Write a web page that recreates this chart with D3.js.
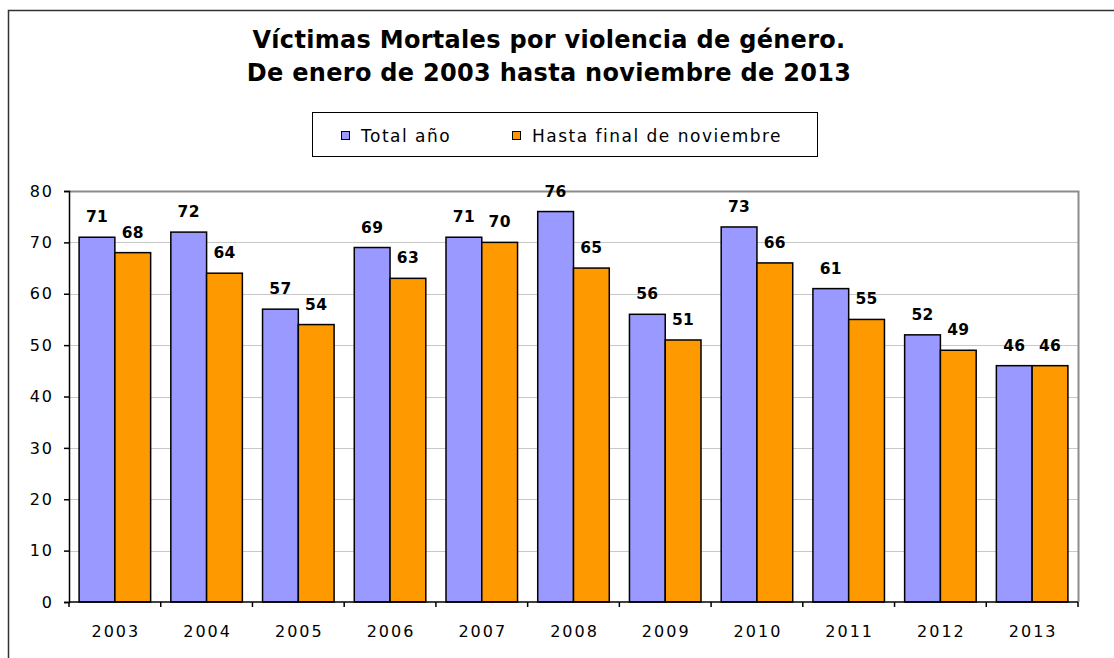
<!DOCTYPE html>
<html>
<head>
<meta charset="utf-8">
<script src="https://cdn.jsdelivr.net/npm/d3@7"></script>
<style>
  html, body { margin: 0; padding: 0; background: #fff; }
  svg { display: block; }
</style>
</head>
<body>
<div id="chart"></div>
<script>
const years = ["2003","2004","2005","2006","2007","2008","2009","2010","2011","2012","2013"];
const totalYear = [71, 72, 57, 69, 71, 76, 56, 73, 61, 52, 46];
const untilNovember = [68, 64, 54, 63, 70, 65, 51, 66, 55, 49, 46];
const seriesNames = ["Total año", "Hasta final de noviembre"];
const seriesColors = ["#9999ff", "#ff9900"];
const yTicks = [0, 10, 20, 30, 40, 50, 60, 70, 80];
const titleLines = ["Víctimas Mortales por violencia de género.", "De enero de 2003 hasta noviembre de 2013"];

const width = 1114, height = 658;
const margin = { top: 191, right: 36, bottom: 56, left: 69 };

const svg = d3.select("#chart").append("svg")
  .attr("width", width)
  .attr("height", height);

// Outer frame (runs off the right and bottom edge).
svg.append("rect")
  .attr("x", 8.5).attr("y", 10.5)
  .attr("width", width + 20).attr("height", height + 20)
  .attr("fill", "#fff")
  .attr("stroke", "#333")
  .attr("stroke-width", 1.5);

// Title.
svg.append("g").selectAll("text")
  .data(titleLines)
  .join("text")
  .attr("x", 549)
  .attr("y", (d, i) => 48 + i * 33)
  .attr("text-anchor", "middle")
  .style("font-family", "'DejaVu Sans', Verdana, sans-serif")
  .style("font-weight", "bold")
  .style("font-size", "24px")
  .style("letter-spacing", "0.3px")
  .text(d => d);

// Legend.
const legend = svg.append("g").attr("class", "legend");
legend.append("rect")
  .attr("x", 312.5).attr("y", 112.5)
  .attr("width", 505).attr("height", 44)
  .attr("fill", "#fff")
  .attr("stroke", "#000")
  .attr("stroke-width", 1);
const legendX = [341, 512];
const legendItems = legend.selectAll("g.item")
  .data(seriesNames)
  .join("g")
  .attr("class", "item")
  .attr("transform", (d, i) => `translate(${legendX[i]},131)`);
legendItems.append("rect")
  .attr("x", 0.5).attr("y", 0.5)
  .attr("width", 8).attr("height", 8)
  .attr("fill", (d, i) => seriesColors[i])
  .attr("stroke", "#000")
  .attr("stroke-width", 1);
legendItems.append("text")
  .attr("x", 20)
  .attr("y", 11)
  .style("font-family", "'DejaVu Sans', Verdana, sans-serif")
  .style("font-size", "17px")
  .style("letter-spacing", "1.5px")
  .text(d => d);

// Scales.
const x0 = d3.scaleBand()
  .domain(years)
  .range([margin.left, width - margin.right])
  .paddingInner(0.22)
  .paddingOuter(0.11);
const x1 = d3.scaleBand()
  .domain([0, 1])
  .range([0, x0.bandwidth()]);
const y = d3.scaleLinear()
  .domain([0, 80])
  .range([height - margin.bottom, margin.top]);

const plotLeft = margin.left, plotRight = width - margin.right;
const plotTop = margin.top, plotBottom = height - margin.bottom;

// Gridlines.
svg.append("g").attr("class", "grid")
  .selectAll("line")
  .data(yTicks.filter(d => d > 0))
  .join("line")
  .attr("x1", plotLeft).attr("x2", plotRight)
  .attr("y1", d => Math.round(y(d)) + 0.5)
  .attr("y2", d => Math.round(y(d)) + 0.5)
  .attr("stroke", "#c8c8c8")
  .attr("stroke-width", 1);

// Plot area border (top and right).
svg.append("path")
  .attr("d", `M${plotLeft},${plotTop + 0.5}H${plotRight + 0.5}V${plotBottom}`)
  .attr("fill", "none")
  .attr("stroke", "#8c8c8c")
  .attr("stroke-width", 2);

// Bars.
const data = years.map((yr, i) => ({ year: yr, values: [totalYear[i], untilNovember[i]] }));
const groups = svg.append("g").attr("class", "bars")
  .selectAll("g")
  .data(data)
  .join("g")
  .attr("transform", d => `translate(${x0(d.year)},0)`);
groups.selectAll("rect")
  .data(d => d.values.map((v, k) => ({ k, v })))
  .join("rect")
  .attr("x", d => x1(d.k))
  .attr("y", d => y(d.v))
  .attr("width", x1.bandwidth())
  .attr("height", d => y(0) - y(d.v))
  .attr("fill", d => seriesColors[d.k])
  .attr("stroke", "#000")
  .attr("stroke-width", 1.5);
groups.selectAll("text")
  .data(d => d.values.map((v, k) => ({ k, v })))
  .join("text")
  .attr("x", d => x1(d.k) + x1.bandwidth() / 2)
  .attr("y", d => y(d.v) - 15)
  .attr("text-anchor", "middle")
  .style("font-family", "'DejaVu Sans', Verdana, sans-serif")
  .style("font-weight", "bold")
  .style("font-size", "15.5px")
  .style("letter-spacing", "0.3px")
  .text(d => d.v);

// Y axis.
const yAxis = svg.append("g")
  .attr("transform", `translate(${plotLeft},0)`)
  .call(d3.axisLeft(y).tickValues(yTicks).tickSize(5).tickPadding(10));
yAxis.select(".domain").attr("stroke", "#000").attr("stroke-width", 1.5);
yAxis.selectAll(".tick line").attr("stroke", "#000").attr("stroke-width", 1.5);
yAxis.selectAll(".tick text")
  .style("font-family", "'DejaVu Sans', Verdana, sans-serif")
  .style("font-size", "16px")
  .style("letter-spacing", "2px")
  .attr("fill", "#000");

// X axis: ticks on category boundaries.
const xAxis = svg.append("g")
  .attr("transform", `translate(0,${plotBottom})`);
xAxis.append("line")
  .attr("x1", plotLeft).attr("x2", plotRight)
  .attr("stroke", "#000").attr("stroke-width", 1.5);
const step = x0.step();
const bounds = d3.range(years.length + 1).map(i => plotLeft + i * step);
xAxis.selectAll("line.tick")
  .data(bounds)
  .join("line")
  .attr("class", "tick")
  .attr("x1", d => d).attr("x2", d => d)
  .attr("y1", 0).attr("y2", 5)
  .attr("stroke", "#000").attr("stroke-width", 1.5);
xAxis.selectAll("text")
  .data(years)
  .join("text")
  .attr("x", d => x0(d) + x0.bandwidth() / 2 + 1)
  .attr("y", 35)
  .attr("text-anchor", "middle")
  .style("font-family", "'DejaVu Sans', Verdana, sans-serif")
  .style("font-size", "16px")
  .style("letter-spacing", "2px")
  .text(d => d);
</script>
</body>
</html>
